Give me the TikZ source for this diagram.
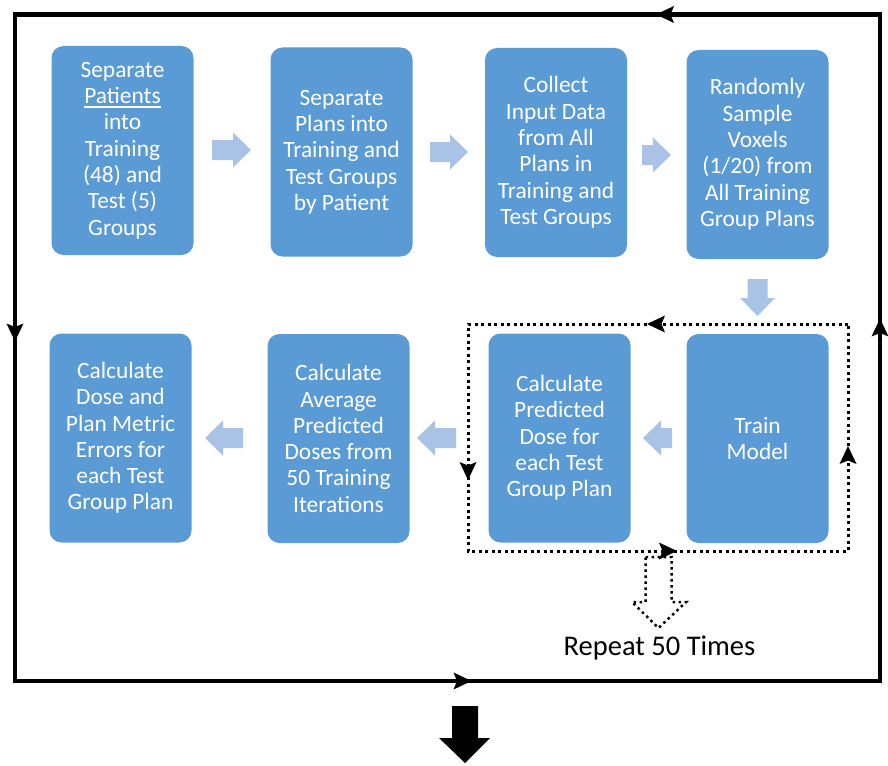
\documentclass[tikz,border=0pt]{standalone}
\usepackage{fontspec}
\setmainfont{Carlito}
\usetikzlibrary{arrows.meta,decorations.markings}
\definecolor{boxblue}{HTML}{5B9BD5}
\definecolor{lightarr}{HTML}{A9C3E6}
\newcommand{\boxfont}{\fontsize{23.4}{26.3}\selectfont}
\newcommand{\myul}[1]{\setbox0\hbox{#1}\rlap{\raisebox{-4pt}{\rule{\wd0}{1.6pt}}}\box0}
% block arrows: right (x1,x2,yc), left (x1,x2,yc), down (xc,y1,y2)
\newcommand{\arrR}[3]{\fill[lightarr] (#1,#3-10) -- (#2-18,#3-10) -- (#2-18,#3-17.5) -- (#2,#3) -- (#2-18,#3+17.5) -- (#2-18,#3+10) -- (#1,#3+10) -- cycle;}
\newcommand{\arrL}[3]{\fill[lightarr] (#2,#3-10) -- (#1+18,#3-10) -- (#1+18,#3-17.5) -- (#1,#3) -- (#1+18,#3+17.5) -- (#1+18,#3+10) -- (#2,#3+10) -- cycle;}
\newcommand{\arrD}[3]{\fill[lightarr] (#1-10,#2) -- (#1-10,#3-18) -- (#1-17.5,#3-18) -- (#1,#3) -- (#1+17.5,#3-18) -- (#1+10,#3-18) -- (#1+10,#2) -- cycle;}
\newcommand{\headtri}{\fill[black, solid] (9,0) -- (-9,8.5) -- (-5.5,0) -- (-9,-8.5) -- cycle;}
\tikzset{
  stepbox/.style={rectangle, rounded corners=12pt, fill=boxblue, text=white,
    minimum width=142pt, minimum height=209pt, inner sep=0pt, align=center, font=\boxfont},
}
\begin{document}
\begin{tikzpicture}[x=1pt,y=-1pt]
\useasboundingbox (0,0) rectangle (888,765);
\fill[white] (0,0) rectangle (888,765);

% outer frame
\coordinate (FTR) at (880,14.5);
\coordinate (FTL) at (15,14.5);
\coordinate (FBL) at (15,681);
\coordinate (FBR) at (880,681);
\draw[line width=4.5pt, line join=miter,
  postaction={decorate},
  decoration={markings,
    mark=at position 215pt with {\headtri},
    mark=at position 1183pt with {\headtri},
    mark=at position 1979pt with {\headtri},
    mark=at position 2750pt with {\headtri}}]
  (FTR) -- (FTL) -- (FBL) -- (FBR) -- cycle;

% boxes
\node[stepbox] (b1) at (122.5,150.5) {Separate\\\myul{Patients}\\into\\Training\\(48) and\\Test (5)\\Groups};
\node[stepbox] (b2) at (341.5,152) {Separate\\Plans into\\Training and\\Test Groups\\by Patient};
\node[stepbox] (b3) at (556,152.5) {Collect\\Input Data\\from All\\Plans in\\Training and\\Test Groups};
\node[stepbox] (b4) at (757.5,154.5) {Randomly\\Sample\\Voxels\\(1/20) from\\All Training\\Group Plans};
\node[stepbox] (b5) at (120.5,438) {Calculate\\Dose and\\Plan Metric\\Errors for\\each Test\\Group Plan};
\node[stepbox] (b6) at (338.5,438.5) {Calculate\\Average\\Predicted\\Doses from\\50 Training\\Iterations};
\node[stepbox] (b7) at (559.5,438) {Calculate\\Predicted\\Dose for\\each Test\\Group Plan};
\node[stepbox] (b8) at (757.5,438.5) {Train\\Model};

% light block arrows
\arrR{212}{251}{150}
\arrR{430}{468}{152}
\arrR{642}{671}{155}
\arrD{757.5}{279}{316}
\arrL{643}{672}{438}
\arrL{417}{456}{438}
\arrL{205}{243}{438}

% dotted loop box
\coordinate (DTR) at (848,324);
\coordinate (DTL) at (468,324);
\coordinate (DBL) at (468,551);
\coordinate (DBR) at (848,551);
\draw[line width=3pt, dash pattern=on 3pt off 3.5pt,
  postaction={decorate},
  decoration={markings,
    mark=at position 192pt with {\headtri},
    mark=at position 527pt with {\headtri},
    mark=at position 807pt with {\headtri},
    mark=at position 1083pt with {\headtri}}]
  (DTR) -- (DTL) -- (DBL) -- (DBR) -- cycle;

% hollow dotted arrow
\draw[line width=2.5pt, dash pattern=on 2.5pt off 3.5pt, line join=miter]
  (645.5,557) -- (671.5,557) -- (671.5,602) -- (686,602) -- (658.5,628)
  -- (632,602) -- (645.5,602) -- cycle;
\node[anchor=base, font=\fontsize{28.5}{32}\selectfont, inner sep=0pt] (rep) at (659.5,655) {Repeat 50 Times};

% bottom black arrow
\fill[black] (452,706) -- (478,706) -- (478,738) -- (490,738) -- (465,763) -- (439,738) -- (452,738) -- cycle;
\end{tikzpicture}
\end{document}
